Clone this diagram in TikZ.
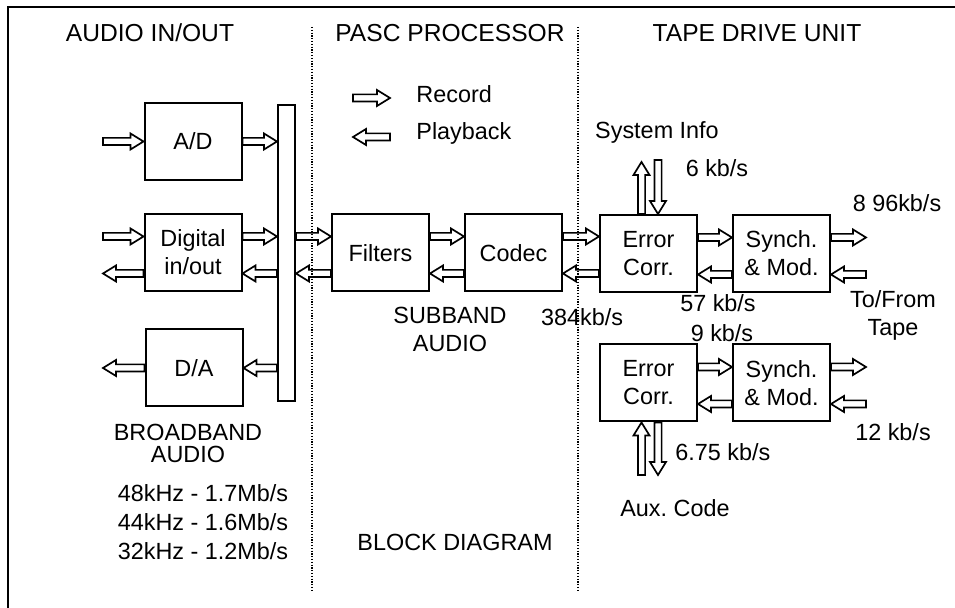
\documentclass[tikz,border=0pt]{standalone}
\usepackage{fontspec}
\setmainfont{Liberation Sans}
\usetikzlibrary{calc}
\tikzset{
  fx/.style={x=0.5pt, y=-0.5pt, font=\fontsize{11.7}{14}\selectfont},
  p box/.style={draw, line width=1pt, minimum width=48.5pt, minimum height=38.5pt, align=center, inner sep=0pt},
  p bus/.style={draw, line width=1pt, minimum width=8.5pt, minimum height=148pt, inner sep=0pt},
  p txt/.style={inner sep=0pt, align=center},
  p head/.style={p txt, font=\fontsize{12.3}{14}\selectfont},
  p sep/.style={line width=0.6pt, dash pattern=on 0.6pt off 0.8pt},
  p arr/.style={draw, line width=0.85pt, line join=miter,
    to path={coordinate (pa s) (\tikztotarget) coordinate (pa t)
      ($(pa t)!6.5pt!(pa s)$) coordinate (pa h)
      ($(pa s)!1.8pt!90:(pa t)$) -- ($(pa h)!1.8pt!-90:(pa s)$) -- ($(pa h)!4pt!-90:(pa s)$)
      -- (pa t) -- ($(pa h)!4pt!90:(pa s)$) -- ($(pa h)!1.8pt!90:(pa s)$)
      -- ($(pa s)!1.8pt!-90:(pa t)$) -- cycle}},
}
\begin{document}
\begin{tikzpicture}[fx]
\useasboundingbox (0,0) rectangle (955,608);
\draw[line width=0.8pt] (8,620) -- (8,7) -- (965,7);
% headings
\node[p head] (hin) at (150,33) {AUDIO IN/OUT};
\node[p head] (hpasc) at (450,33) {PASC PROCESSOR};
\node[p head] (htape) at (757,33) {TAPE DRIVE UNIT};
% legend
\node[p txt, anchor=west] (rec) at (416,94) {Record};
\node[p txt, anchor=west] (play) at (416,133) {Playback};
\coordinate (rec a) at (353,98); \coordinate (rec b) at (390,98);
\coordinate (play a) at (390,137); \coordinate (play b) at (353,137);
% audio in/out
\node[p box] (ad) at (193,141.5) {A/D};
\node[p box] (dig) at (193,252.5) {Digital\\in/out};
\node[p box] (da) at (194,368) {D/A};
\node[p bus] (bus) at (286.5,253) {};
\node[p txt] (bb) at (188,443) {BROADBAND\\[-3pt]AUDIO};
\node[p txt, font=\fontsize{11.7}{14.5}\selectfont] (rates) at (203,522) {48kHz - 1.7Mb/s\\44kHz - 1.6Mb/s\\32kHz - 1.2Mb/s};
\coordinate (ad in) at (103,141.5);
\coordinate (dig in) at (103,236.5);
\coordinate (dig out) at (103,273.5);
\coordinate (da out) at (103,368);
% pasc processor
\node[p box] (filt) at (380.5,253) {Filters};
\node[p box] (codec) at (513.5,253) {Codec};
\node[p txt] (sub) at (450,329) {SUBBAND\\AUDIO};
\node[p txt] (blk) at (455,542) {BLOCK DIAGRAM};
\node[p txt] (r384) at (582,317) {384kb/s};
% tape drive unit
\node[p box] (ec1) at (648.5,253.5) {Error\\Corr.};
\node[p box] (sy1) at (781.5,253.5) {Synch.\\\& Mod.};
\node[p box] (ec2) at (648.5,383) {Error\\Corr.};
\node[p box] (sy2) at (781.5,383) {Synch.\\\& Mod.};
\node[p txt] (sys) at (657,132) {System Info};
\node[p txt] (r6) at (717,168) {6 kb/s};
\node[p txt] (r896) at (897,203) {8 96kb/s};
\node[p txt] (r57) at (718,303) {57 kb/s};
\node[p txt] (tape) at (893,315) {To/From\\Tape};
\node[p txt] (r9) at (722,333) {9 kb/s};
\node[p txt] (r12) at (893,432) {12 kb/s};
\node[p txt, anchor=west] (r675) at (675,452) {6.75 kb/s};
\node[p txt] (aux) at (675,508) {Aux.\ Code};
\coordinate (sys up) at (641.5,162); \coordinate (sys dn) at (658,160);
\coordinate (aux up) at (641.5,475); \coordinate (aux dn) at (658,475);
\coordinate (t1 out) at (866,237.5); \coordinate (t1 in) at (866,274.5);
\coordinate (t2 out) at (866,367); \coordinate (t2 in) at (866,404);
% arrows
\path[p arr] (rec a) to (rec b);
\path[p arr] (play a) to (play b);
\path[p arr] (ad in) to (ad.west);
\path[p arr] (ad.east) to (ad.east -| bus.west);
\path[p arr] (dig in) to (dig in -| dig.west);
\path[p arr] (dig out -| dig.west) to (dig out);
\path[p arr] (dig in -| dig.east) to (dig in -| bus.west);
\path[p arr] (dig out -| bus.west) to (dig out -| dig.east);
\path[p arr] (da.east -| bus.west) to (da.east);
\path[p arr] (da.west) to (da out);
\path[p arr] (dig in -| bus.east) to (dig in -| filt.west);
\path[p arr] (dig out -| filt.west) to (dig out -| bus.east);
\path[p arr] (dig in -| filt.east) to (dig in -| codec.west);
\path[p arr] (dig out -| codec.west) to (dig out -| filt.east);
\path[p arr] (dig in -| codec.east) to (dig in -| ec1.west);
\path[p arr] (dig out -| ec1.west) to (dig out -| codec.east);
\path[p arr] (t1 out -| ec1.east) to (t1 out -| sy1.west);
\path[p arr] (t1 in -| sy1.west) to (t1 in -| ec1.east);
\path[p arr] (t1 out -| sy1.east) to (t1 out);
\path[p arr] (t1 in) to (t1 in -| sy1.east);
\path[p arr] (t2 out -| ec2.east) to (t2 out -| sy2.west);
\path[p arr] (t2 in -| sy2.west) to (t2 in -| ec2.east);
\path[p arr] (t2 out -| sy2.east) to (t2 out);
\path[p arr] (t2 in) to (t2 in -| sy2.east);
\path[p arr] (sys up |- ec1.north) to (sys up);
\path[p arr] (sys dn) to (sys dn |- ec1.north);
\path[p arr] (aux up) to (aux up |- ec2.south);
\path[p arr] (aux dn |- ec2.south) to (aux dn);
% section separators
\draw[p sep] (312,27) -- (312,590);
\draw[p sep] (578,27) -- (578,590);
\end{tikzpicture}
\end{document}
